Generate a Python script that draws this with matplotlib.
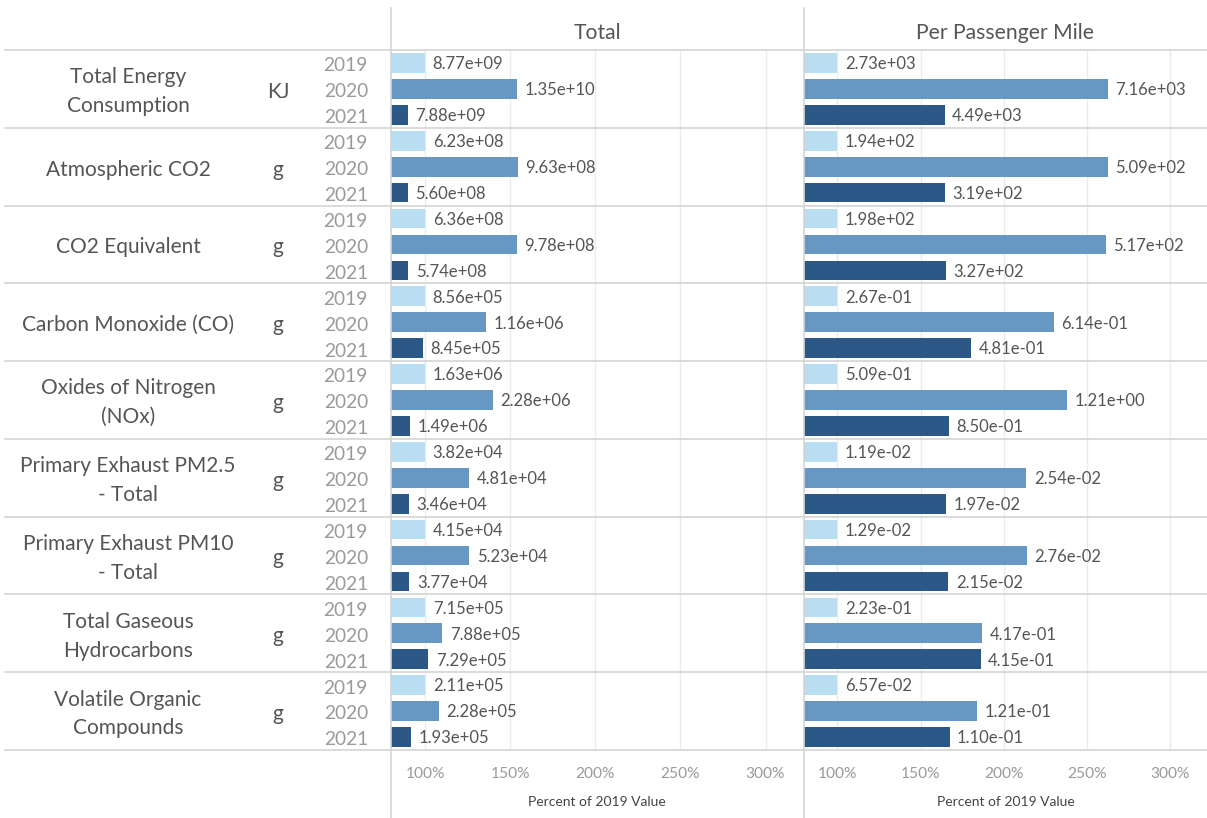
import matplotlib

matplotlib.use("Agg")
import matplotlib.pyplot as plt
from matplotlib.lines import Line2D

plt.rcParams["font.family"] = ["Lato", "DejaVu Sans"]

metrics = [
    "Total Energy\nConsumption",
    "Atmospheric CO2",
    "CO2 Equivalent",
    "Carbon Monoxide (CO)",
    "Oxides of Nitrogen\n(NOx)",
    "Primary Exhaust PM2.5\n- Total",
    "Primary Exhaust PM10\n- Total",
    "Total Gaseous\nHydrocarbons",
    "Volatile Organic\nCompounds",
]
units = ["KJ", "g", "g", "g", "g", "g", "g", "g", "g"]
years = ["2019", "2020", "2021"]

# values per metric: 2019, 2020, 2021
total = [
    [8.77e9, 1.35e10, 7.88e9],
    [6.23e8, 9.63e8, 5.60e8],
    [6.36e8, 9.78e8, 5.74e8],
    [8.56e5, 1.16e6, 8.45e5],
    [1.63e6, 2.28e6, 1.49e6],
    [3.82e4, 4.81e4, 3.46e4],
    [4.15e4, 5.23e4, 3.77e4],
    [7.15e5, 7.88e5, 7.29e5],
    [2.11e5, 2.28e5, 1.93e5],
]
per_mile = [
    [2.73e3, 7.16e3, 4.49e3],
    [1.94e2, 5.09e2, 3.19e2],
    [1.98e2, 5.17e2, 3.27e2],
    [2.67e-1, 6.14e-1, 4.81e-1],
    [5.09e-1, 1.21e0, 8.50e-1],
    [1.19e-2, 2.54e-2, 1.97e-2],
    [1.29e-2, 2.76e-2, 2.15e-2],
    [2.23e-1, 4.17e-1, 4.15e-1],
    [6.57e-2, 1.21e-1, 1.10e-1],
]
pct_ticks = [100, 150, 200, 250, 300]

colors = ["#b9ddf1", "#6698c3", "#2b5886"]
GRID = "#ebebeb"
SEP = "#d4d4d4"

W, H = 1207, 818
fig = plt.figure(figsize=(W / 100, H / 100), dpi=100)
fig.patch.set_facecolor("white")

top_px, bot_px = 50, 750
n_slots = len(metrics) * 3
dy = 0.11  # nudge text down a little so it sits like tableau's


def rect(x0, x1):
    return [x0 / W, (H - bot_px) / H, (x1 - x0) / W, (bot_px - top_px) / H]


lab_ax = fig.add_axes(rect(0, 391))
lab_ax.set_xlim(0, 391)
lab_ax.set_ylim(n_slots, 0)
lab_ax.axis("off")

for i, (m, u) in enumerate(zip(metrics, units)):
    yc = i * 3 + 1.5 + dy
    lab_ax.text(128, yc, m, ha="center", va="center", fontsize=15,
                color="#555555", linespacing=1.55)
    lab_ax.text(278, yc, u, ha="center", va="center", fontsize=15, color="#555555")
    for j, yr in enumerate(years):
        lab_ax.text(368, i * 3 + j + 0.5 + dy, yr, ha="right", va="center",
                    fontsize=13.8, color="#9a9a9a")

panels = [("Total", total, 391, 803), ("Per Passenger Mile", per_mile, 804, 1207)]
for title, data, x0, x1 in panels:
    ax = fig.add_axes(rect(x0, x1))
    ax.set_xlim(80, 322)
    ax.set_ylim(n_slots, 0)
    for s in ax.spines.values():
        s.set_visible(False)
    ax.set_yticks([])
    ax.set_xticks(pct_ticks)
    ax.set_xticklabels([f"{t}%" for t in pct_ticks], fontsize=11.2, color="#9a9a9a")
    ax.tick_params(axis="x", length=0, pad=12)
    ax.set_xlabel("Percent of 2019 Value", fontsize=10, color="#444444", labelpad=11)
    for t in pct_ticks:
        ax.axvline(t, color=GRID, lw=1, zorder=0)
    for i, row in enumerate(data):
        base = row[0]
        for j, v in enumerate(row):
            pct = v / base * 100
            y = i * 3 + j + 0.5
            ax.barh(y, pct - 80, left=80, height=0.76, color=colors[j], zorder=2)
            ax.text(pct + 4.5, y + 0.05, f"{v:.2e}", ha="left", va="center",
                    fontsize=12, color="#555555", zorder=3)
    fig.text((x0 + x1) / 2 / W, 1 - 33 / H, title, ha="center", va="center",
             fontsize=15.2, color="#555555")

# row separators across the whole figure
for k in range(len(metrics) + 1):
    ypx = top_px + (bot_px - top_px) / len(metrics) * k
    fig.add_artist(Line2D([5 / W, 1], [1 - ypx / H] * 2, color=SEP, lw=1.2))

# panel dividers
for xpx in (390.5, 803.5):
    fig.add_artist(Line2D([xpx / W] * 2, [0, 1 - 8 / H], color=SEP, lw=1.2))

fig.savefig("out.png", dpi=100, facecolor="white")
